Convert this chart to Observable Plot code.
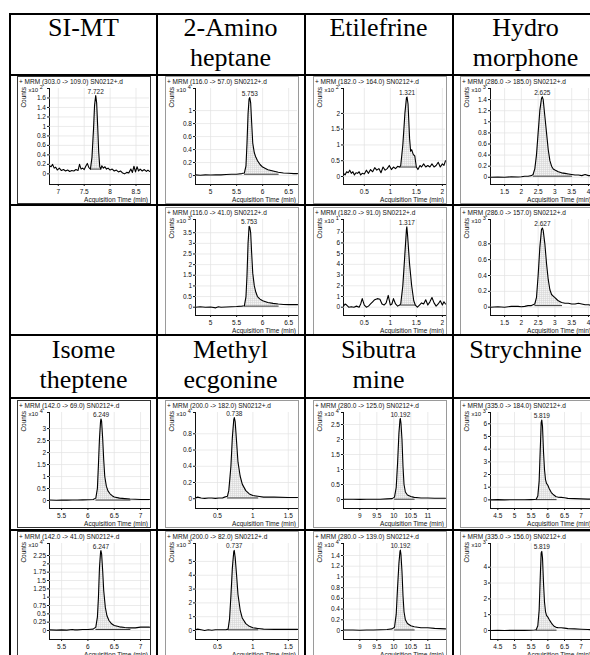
<!DOCTYPE html>
<html><head><meta charset="utf-8">
<script src="https://cdn.jsdelivr.net/npm/d3@7"></script>
<script src="https://cdn.jsdelivr.net/npm/@observablehq/plot@0.6"></script>
<style>
html,body{margin:0;padding:0;background:#fff;}
#chart{position:relative;width:590px;height:655px;overflow:hidden;background:#fff;}
.ln{position:absolute;background:#000;}
.hdr{position:absolute;text-align:center;font-family:"Liberation Serif","Times New Roman",serif;font-size:26px;line-height:30px;white-space:pre-line;color:#000;}
.panel{position:absolute;box-sizing:border-box;border:1px solid #9a9a9a;background:#fff;overflow:hidden;}
.panel.dark{border-color:#333;}
.panel svg{position:absolute;left:0;top:0;}
</style></head><body>
<svg width="0" height="0" style="position:absolute"><defs><pattern id="hatch" width="2" height="2" patternUnits="userSpaceOnUse"><rect width="2" height="2" fill="#f4f4f4"/><path d="M0,0.5H2M0.5,0V2" stroke="#d2d2d2" stroke-width="0.5"/></pattern></defs></svg>
<div id="chart"></div>
<script>
// ---------- data ----------
const compounds = ["SI-MT","2-Amino\nheptane","Etilefrine","Hydro\nmorphone","Isome\ntheptene","Methyl\necgonine","Sibutra\nmine","Strychnine"];

const panelRow = [0,0,0,0,1,1,1,2,2,2,2,3,3,3,3];
const panelCol = [0,1,2,3,1,2,3,0,1,2,3,0,1,2,3];

const mrmLabels = ["303.0 -> 109.0","116.0 -> 57.0","182.0 -> 164.0","286.0 -> 185.0","116.0 -> 41.0","182.0 -> 91.0","286.0 -> 157.0","142.0 -> 69.0","200.0 -> 182.0","280.0 -> 125.0","335.0 -> 184.0","142.0 -> 41.0","200.0 -> 82.0","280.0 -> 139.0","335.0 -> 156.0"];
const peakLabels = ["7.722","5.753","1.321","2.625","5.753","1.317","2.627","6.249","0.738","10.192","5.819","6.247","0.737","10.192","5.819"];
const exponents = [2,4,2,3,3,1,3,4,4,4,3,4,3,4,3];

const xDomains = [[6.83,8.76],[4.71,6.67],[0.1,2.06],[1.08,4.12],[4.71,6.67],[0.1,2.06],[1.08,4.12],[5.27,7.17],[0.19,1.63],[8.52,11.52],[4.28,7.34],[5.27,7.17],[0.19,1.63],[8.52,11.52],[4.28,7.34]];
const yDomains = [[-0.225,1.8],[-0.138,1.34],[-0.254,2.79],[-0.13,1.6],[-0.39,4.12],[-0.775,8.19],[-0.105,1.107],[-0.333,3.67],[-0.12,1.062],[-0.3,2.9],[-0.68,6.89],[-0.27,2.61],[-0.652,6.3],[-0.168,1.624],[-0.569,5.5]];

const xTicks = [[7,7.5,8,8.5],[5,5.5,6,6.5],[0.5,1,1.5,2],[1.5,2,2.5,3,3.5,4],[5,5.5,6,6.5],[0.5,1,1.5,2],[1.5,2,2.5,3,3.5,4],[5.5,6,6.5,7],[0.5,1,1.5],[9,9.5,10,10.5,11],[4.5,5,5.5,6,6.5,7],[5.5,6,6.5,7],[0.5,1,1.5],[9,9.5,10,10.5,11],[4.5,5,5.5,6,6.5,7]];
const yTicks = [
  [0,0.2,0.4,0.6,0.8,1,1.2,1.4,1.6],
  [0,0.2,0.4,0.6,0.8,1],
  [0,0.5,1,1.5,2],
  [0,0.2,0.4,0.6,0.8,1,1.2,1.4],
  [0,0.5,1,1.5,2,2.5,3,3.5],
  [0,1,2,3,4,5,6,7],
  [0,0.2,0.4,0.6,0.8],
  [0,0.5,1,1.5,2,2.5,3],
  [0,0.2,0.4,0.6,0.8],
  [0,0.5,1,1.5,2,2.5],
  [0,1,2,3,4,5,6],
  [0,0.25,0.5,0.75,1,1.25,1.5,1.75,2,2.25],
  [0,1,2,3,4,5],
  [0,0.2,0.4,0.6,0.8,1,1.2,1.4],
  [0,1,2,3,4]
];

const peakStart = [7.62,5.65,1.18,2.35,5.65,1.2,2.4,6.15,0.64,10.02,5.65,6.15,0.65,10.02,5.65];
const peakEnd   = [7.82,6.3,1.5,3.5,6.3,1.48,3.2,6.8,1.07,10.6,6.25,6.8,1.07,10.6,6.25];
const peakBase  = [0.1,0.02,0.3,0.02,0.05,0.2,0.02,0.02,0.01,0.01,0.02,0.03,0.05,0.01,0.02];

// SI-MT 303->109
const timeA = [6.83,6.86,6.89,6.92,6.95,6.98,7.02,7.06,7.1,7.14,7.18,7.22,7.26,7.3,7.34,7.38,7.41,7.44,7.47,7.5,7.53,7.56,7.59,7.62,7.65,7.68,7.7,7.722,7.74,7.76,7.78,7.8,7.82,7.84,7.87,7.9,7.93,7.96,8.0,8.04,8.08,8.12,8.16,8.2,8.24,8.28,8.32,8.36,8.4,8.43,8.46,8.49,8.52,8.55,8.58,8.62,8.66,8.7,8.73,8.76];
const countsA = [0.17,0.15,0.2,0.12,0.14,0.08,0.12,0.07,0.09,0.06,0.08,0.05,0.07,0.06,0.09,0.07,0.2,0.1,0.12,0.09,0.16,0.22,0.13,0.1,0.35,0.95,1.45,1.65,1.5,1.0,0.45,0.15,0.1,0.17,0.12,0.15,0.1,0.12,0.08,0.1,0.06,0.08,0.04,0.06,0.02,0.0,0.03,0.02,0.1,0.03,0.16,0.04,0.15,0.06,0.1,0.06,0.09,0.05,0.08,0.05];
// 2-Aminoheptane 116->57
const timeB = [4.71,4.8,4.9,5.0,5.1,5.2,5.3,5.4,5.5,5.6,5.65,5.68,5.7,5.72,5.74,5.753,5.77,5.79,5.81,5.84,5.87,5.9,5.95,6.0,6.1,6.2,6.3,6.4,6.5,6.6,6.67];
const countsB = [0.01,0.005,0.01,0.008,0.012,0.01,0.015,0.02,0.02,0.03,0.04,0.15,0.5,0.95,1.18,1.2,1.12,0.8,0.5,0.35,0.28,0.23,0.17,0.13,0.09,0.07,0.05,0.04,0.035,0.03,0.03];
// Etilefrine 182->164
const timeC = [0.1,0.13,0.16,0.19,0.22,0.25,0.28,0.31,0.34,0.37,0.4,0.43,0.46,0.5,0.54,0.58,0.62,0.66,0.7,0.74,0.78,0.82,0.86,0.9,0.94,0.98,1.02,1.06,1.1,1.14,1.18,1.2,1.24,1.28,1.31,1.321,1.34,1.37,1.39,1.41,1.44,1.47,1.5,1.53,1.57,1.6,1.64,1.68,1.72,1.76,1.8,1.84,1.88,1.92,1.96,2.0,2.03,2.06];
const countsC = [0.1,0.05,0.15,0.12,0.2,0.1,0.15,0.05,0.12,0.1,0.15,0.05,0.1,0.08,0.2,0.1,0.22,0.15,0.28,0.2,0.25,0.12,0.3,0.2,0.25,0.35,0.22,0.3,0.25,0.32,0.3,0.35,1.0,2.0,2.5,2.52,2.3,1.2,0.8,0.85,0.7,0.65,0.3,0.22,0.35,0.3,0.4,0.3,0.35,0.3,0.4,0.3,0.35,0.45,0.3,0.4,0.35,0.5];
// Hydromorphone 286->185
const timeD = [1.08,1.3,1.5,1.7,1.9,2.0,2.1,2.2,2.3,2.35,2.4,2.45,2.5,2.55,2.6,2.625,2.65,2.7,2.75,2.8,2.85,2.9,2.95,3.0,3.1,3.2,3.3,3.4,3.5,3.6,3.7,3.8,3.9,4.0,4.12];
const countsD = [0.0,0.005,0.0,0.01,0.005,0.01,0.02,0.02,0.03,0.05,0.15,0.4,0.8,1.2,1.42,1.45,1.4,1.1,0.8,0.5,0.3,0.2,0.15,0.13,0.1,0.08,0.07,0.06,0.05,0.04,0.04,0.03,0.05,0.03,0.03];
// 2-Aminoheptane 116->41
const timeF = [4.71,4.8,4.9,5.0,5.1,5.15,5.2,5.3,5.4,5.5,5.6,5.65,5.68,5.7,5.72,5.74,5.753,5.77,5.79,5.81,5.84,5.87,5.9,5.95,6.0,6.1,6.2,6.3,6.4,6.5,6.6,6.67];
const countsF = [0.0,0.02,0.0,0.01,-0.03,0.02,0.0,0.01,0.02,0.03,0.05,0.07,0.5,1.5,3.0,3.8,3.75,3.5,2.5,1.6,1.0,0.7,0.5,0.38,0.3,0.22,0.18,0.15,0.13,0.12,0.12,0.12];
// Etilefrine 182->91
const timeG = [0.1,0.13,0.16,0.2,0.25,0.3,0.35,0.4,0.43,0.46,0.5,0.54,0.58,0.62,0.66,0.7,0.75,0.8,0.84,0.88,0.92,0.96,1.0,1.03,1.06,1.1,1.14,1.18,1.2,1.24,1.28,1.31,1.317,1.33,1.37,1.41,1.45,1.48,1.52,1.56,1.6,1.64,1.68,1.72,1.76,1.8,1.84,1.88,1.92,1.96,2.0,2.03,2.06];
const countsG = [0.1,0.3,0.2,0.0,0.05,0.0,0.1,0.0,0.3,0.8,0.2,0.0,0.1,0.3,0.5,0.7,0.8,0.75,0.3,0.2,0.4,1.1,0.2,0.3,0.8,0.3,0.1,0.2,0.3,2.0,5.0,7.3,7.5,6.8,4.0,2.0,0.6,0.2,0.0,0.2,0.4,0.3,0.7,0.2,0.5,0.9,0.4,0.1,0.3,0.6,0.2,0.5,0.3];
// Hydromorphone 286->157
const timeH = [1.08,1.3,1.5,1.7,1.9,2.0,2.1,2.2,2.3,2.4,2.45,2.5,2.55,2.6,2.627,2.65,2.7,2.75,2.8,2.85,2.9,2.95,3.0,3.05,3.1,3.2,3.3,3.4,3.5,3.6,3.7,3.8,3.9,4.0,4.12];
const countsH = [0.0,0.005,0.0,0.01,0.01,0.005,0.01,0.02,0.02,0.04,0.12,0.4,0.75,0.98,1.0,0.97,0.8,0.55,0.35,0.22,0.16,0.14,0.12,0.1,0.08,0.06,0.05,0.05,0.04,0.04,0.05,0.04,0.03,0.03,0.02];
// Isometheptene 142->69
const timeI = [5.27,5.4,5.5,5.6,5.7,5.8,5.9,6.0,6.1,6.15,6.18,6.2,6.22,6.24,6.249,6.26,6.28,6.3,6.32,6.35,6.38,6.42,6.46,6.5,6.6,6.7,6.8,6.9,7.0,7.17];
const countsI = [0.02,0.01,0.02,0.015,0.02,0.02,0.025,0.03,0.04,0.1,0.5,1.5,2.6,3.3,3.4,3.3,2.6,1.7,1.0,0.6,0.4,0.28,0.2,0.15,0.1,0.08,0.06,0.05,0.04,0.04];
// Methylecgonine 200->182
const timeJ = [0.19,0.22,0.27,0.32,0.37,0.42,0.47,0.52,0.57,0.6,0.64,0.66,0.69,0.71,0.73,0.738,0.75,0.77,0.79,0.82,0.85,0.9,0.95,1.0,1.07,1.15,1.3,1.5,1.63];
const countsJ = [0.01,0.02,0.01,0.005,0.01,0.01,0.005,0.01,0.01,0.02,0.03,0.1,0.4,0.75,0.97,1.0,0.95,0.7,0.45,0.28,0.18,0.1,0.06,0.04,0.03,0.02,0.02,0.015,0.015];
// Sibutramine 280->125
const timeK = [8.52,8.8,9.0,9.2,9.4,9.6,9.8,9.95,10.02,10.07,10.11,10.15,10.18,10.192,10.21,10.24,10.27,10.3,10.34,10.4,10.5,10.6,10.8,11.0,11.2,11.52];
const countsK = [0.01,0.01,0.005,0.01,0.01,0.01,0.02,0.03,0.08,0.4,1.2,2.2,2.65,2.7,2.55,2.0,1.1,0.5,0.25,0.15,0.1,0.07,0.05,0.05,0.04,0.04];
// Strychnine 335->184
const timeL = [4.28,4.5,4.7,4.9,5.1,5.3,5.5,5.6,5.65,5.7,5.74,5.78,5.8,5.819,5.84,5.87,5.9,5.93,5.96,6.0,6.04,6.1,6.15,6.2,6.25,6.3,6.4,6.5,6.6,6.8,7.0,7.2,7.34];
const countsL = [0.0,0.02,0.0,0.01,0.01,0.01,0.02,0.03,0.05,0.3,1.5,4.5,6.1,6.3,5.8,3.8,2.4,1.6,1.3,1.15,0.9,0.6,0.45,0.35,0.25,0.22,0.2,0.17,0.12,0.1,0.08,0.06,0.05];
// Isometheptene 142->41
const timeM = [5.27,5.4,5.5,5.6,5.7,5.75,5.8,5.9,6.0,6.1,6.15,6.18,6.2,6.22,6.24,6.247,6.26,6.28,6.3,6.33,6.36,6.4,6.45,6.5,6.6,6.7,6.8,6.9,7.0,7.1,7.17];
const countsM = [0.02,0.01,0.02,0.01,0.03,0.02,0.02,0.03,0.03,0.04,0.1,0.4,1.0,1.9,2.35,2.4,2.3,1.8,1.2,0.7,0.45,0.3,0.2,0.15,0.11,0.09,0.08,0.08,0.1,0.1,0.1];
// Methylecgonine 200->82
const timeN = [0.19,0.22,0.27,0.32,0.37,0.42,0.47,0.52,0.57,0.62,0.65,0.67,0.69,0.71,0.73,0.737,0.75,0.77,0.79,0.82,0.85,0.9,0.95,1.0,1.07,1.15,1.3,1.5,1.63];
const countsN = [0.05,0.1,0.05,0.0,0.05,0.02,0.05,0.05,0.05,0.05,0.1,0.8,2.5,4.5,5.7,5.8,5.3,4.0,2.6,1.5,0.9,0.5,0.3,0.2,0.15,0.1,0.08,0.08,0.08];
// Sibutramine 280->139
const timeO = [8.52,8.8,9.0,9.2,9.4,9.6,9.8,9.95,10.02,10.07,10.11,10.15,10.18,10.192,10.21,10.24,10.27,10.3,10.34,10.4,10.5,10.6,10.8,11.0,11.2,11.52];
const countsO = [0.01,0.01,0.005,0.01,0.01,0.015,0.02,0.03,0.06,0.3,0.8,1.25,1.47,1.5,1.42,1.1,0.65,0.35,0.2,0.13,0.09,0.07,0.05,0.05,0.04,0.03];
// Strychnine 335->156
const timeP = [4.28,4.5,4.7,4.9,5.1,5.3,5.5,5.6,5.65,5.7,5.74,5.78,5.8,5.819,5.84,5.87,5.9,5.93,5.96,6.0,6.04,6.1,6.15,6.2,6.25,6.3,6.4,6.5,6.6,6.8,7.0,7.2,7.34];
const countsP = [0.0,0.01,0.0,0.01,0.01,0.01,0.02,0.03,0.05,0.3,1.3,3.8,4.9,5.0,4.6,3.0,1.8,1.2,0.95,0.85,0.7,0.5,0.35,0.25,0.2,0.18,0.17,0.15,0.12,0.1,0.08,0.06,0.05];

const times  = [timeA,timeB,timeC,timeD,timeF,timeG,timeH,timeI,timeJ,timeK,timeL,timeM,timeN,timeO,timeP];
const counts = [countsA,countsB,countsC,countsD,countsF,countsG,countsH,countsI,countsJ,countsK,countsL,countsM,countsN,countsO,countsP];

// ---------- layout ----------
const chart = document.getElementById("chart");
const colLeft = [17,165,313,460];
const rowTop = [76,207,400,531];
const boxW = 134, boxH = 128;
const FONT = "'Liberation Sans', Arial, Helvetica, sans-serif";

function addDiv(cls, style, text) {
  const d = document.createElement("div");
  d.className = cls;
  Object.assign(d.style, style);
  if (text != null) d.textContent = text;
  chart.appendChild(d);
  return d;
}

// header texts
const hdrLeft = [11,157,305,455], hdrWidth = [145,147,147,141];
const hdrTop = [13,335];
compounds.forEach((name, k) => {
  const r = Math.floor(k / 4), c = k % 4;
  addDiv("hdr", {left: hdrLeft[c]+"px", top: hdrTop[r]+"px", width: hdrWidth[c]+"px"}, name);
});

// panels
times.forEach((t, i) => {
  const r = panelRow[i], c = panelCol[i];
  const box = addDiv("panel" + (c === 0 ? " dark" : ""), {left: colLeft[c]+"px", top: rowTop[r]+"px", width: boxW+"px", height: boxH+"px"});
  const W = boxW - 2, H = boxH - 2;
  const mL = c === 0 ? 31 : 29, mT = 11, mB = 19, mR = 1;
  const data = t.map((x, k) => ({x, y: counts[i][k]}));
  const ps = peakStart[i], pe = peakEnd[i], pb = peakBase[i];
  const areaData = data.filter(d => d.x >= ps && d.x <= pe);
  const top = data.reduce((a, b) => (b.y > a.y ? b : a));
  const yTop = yDomains[i][1];
  const svg = Plot.plot({
    width: W, height: H,
    marginLeft: mL, marginRight: mR, marginTop: mT, marginBottom: mB,
    style: {fontFamily: FONT, fontSize: "6.5px", background: "transparent", color: "#111", overflow: "visible"},
    x: {domain: xDomains[i], ticks: xTicks[i], tickSize: 2, tickPadding: 2.5, label: null, line: true, tickFormat: d => String(d)},
    y: {domain: yDomains[i], ticks: [...yTicks[i], yTop], tickSize: 2, tickPadding: 1.5, label: null, line: true,
        tickFormat: d => (d === yTop ? "" : String(d))},
    marks: [
      Plot.ruleX(xTicks[i], {stroke: "#e2e2e2", strokeWidth: 0.7}),
      Plot.ruleY(yTicks[i], {stroke: "#e2e2e2", strokeWidth: 0.7}),
      Plot.areaY(areaData, {x: "x", y1: () => pb, y2: "y", fill: "url(#hatch)"}),
      Plot.line([{x: ps, y: pb}, {x: pe, y: pb}], {x: "x", y: "y", stroke: "#222", strokeWidth: 0.9}),
      Plot.line(data, {x: "x", y: "y", stroke: "#000", strokeWidth: 1.1}),
      Plot.text([top], {x: "x", y: "y", text: () => peakLabels[i], dy: -2, lineAnchor: "bottom", fill: "#222"})
    ]
  });
  box.appendChild(svg);
  const g = d3.select(svg).append("g").attr("font-family", FONT).attr("fill", "#111").attr("text-anchor", "start");
  g.append("text").attr("x", 1).attr("y", 6.5).attr("font-size", 6.5).attr("text-anchor", "start").text(`+ MRM (${mrmLabels[i]}) SN0212+.d`);
  g.append("text").attr("transform", `translate(8,${mT - 1}) rotate(-90)`).attr("text-anchor", "end").attr("font-size", 6.5).text("Counts");
  const m = g.append("text").attr("x", 10.5).attr("y", mT + 3.5).attr("font-size", 6).attr("text-anchor", "start");
  m.append("tspan").text("x10");
  m.append("tspan").attr("dx", 1.5).attr("dy", -3).attr("font-size", 5.5).text(String(exponents[i]));
  g.append("text").attr("x", W - mR - 1).attr("y", H - 1.5).attr("text-anchor", "end").attr("font-size", 6.5).text("Acquisition Time (min)");
});

// table lines
const hLines = [13,74,204,334,397,529];
hLines.forEach(y => addDiv("ln", {left: "9px", top: y+"px", width: "600px", height: "2px"}));
const vLines = [9,156,304,452];
vLines.forEach(x => addDiv("ln", {left: x+"px", top: "13px", width: "2px", height: "650px"}));
</script></body></html>
